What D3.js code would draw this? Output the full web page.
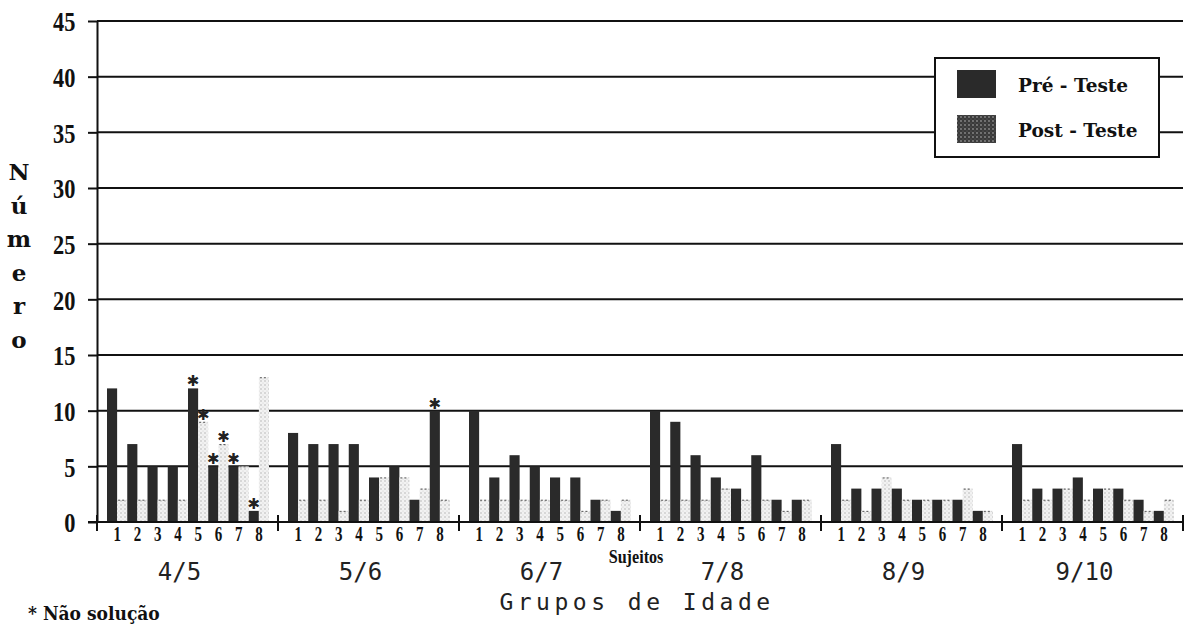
<!DOCTYPE html>
<html>
<head>
<meta charset="utf-8">
<script src="https://cdn.jsdelivr.net/npm/d3@7"></script>
<style>
  body { margin: 0; background: #fff; }
  svg { display: block; }
</style>
</head>
<body>
<script>
// chart data
const groups = ["4/5", "5/6", "6/7", "7/8", "8/9", "9/10"];
const subjects = ["1", "2", "3", "4", "5", "6", "7", "8"];
const preTeste = [
    [12, 7, 5, 5, 12, 5, 5, 1],
    [8, 7, 7, 7, 4, 5, 2, 10],
    [10, 4, 6, 5, 4, 4, 2, 1],
    [10, 9, 6, 4, 3, 6, 2, 2],
    [7, 3, 3, 3, 2, 2, 2, 1],
    [7, 3, 3, 4, 3, 3, 2, 1]
];
const postTeste = [
    [2, 2, 2, 2, 9, 7, 5, 13],
    [2, 2, 1, 2, 4, 4, 3, 2],
    [2, 2, 2, 2, 2, 1, 2, 2],
    [2, 2, 2, 3, 2, 2, 1, 2],
    [2, 1, 4, 2, 2, 2, 3, 1],
    [2, 2, 3, 2, 3, 2, 1, 2]
];
// bars marked "* Não solução": [group, subject, series]
const noSolution = [
    ["4/5", "5", "pre"], ["4/5", "5", "post"], ["4/5", "6", "pre"],
    ["4/5", "6", "post"], ["4/5", "7", "pre"], ["4/5", "8", "pre"],
    ["5/6", "8", "pre"]
];
const yTicks = [0, 5, 10, 15, 20, 25, 30, 35, 40, 45];
const legendLabels = ["Pré - Teste", "Post - Teste"];

const w = 1195
const h = 625
const plotLeft = 97
const plotRight = 1183
const plotTop = 21
const plotBottom = 522
const serif = "'Liberation Serif', 'Times New Roman', serif"
const heavy = "'DejaVu Serif', serif"
const heavyNarrow = "'DejaVu Serif Condensed', 'DejaVu Serif', serif"
const mono = "'DejaVu Sans Mono', monospace"

const yScale = d3.scaleLinear()
    .domain([0, 45])
    .range([plotBottom, plotTop])

const x0 = d3.scaleBand()
    .domain(groups)
    .range([plotLeft, plotRight])

const x1 = d3.scaleBand()
    .domain(subjects)
    .range([10, 172])

const barW = x1.bandwidth() / 2

// flatten to one row per bar
const bars = []
groups.forEach((g, gi) => {
    subjects.forEach((s, si) => {
        bars.push({ g: g, s: s, series: "pre", v: preTeste[gi][si] })
        bars.push({ g: g, s: s, series: "post", v: postTeste[gi][si] })
    })
})
const barX = d => x0(d.g) + x1(d.s) + (d.series == "post" ? barW : 0)

const svg = d3.select("body")
    .append("svg")
    .attr("width", w)
    .attr("height", h)

// stipple patterns for post bars
const defs = svg.append("defs")
const light = defs.append("pattern")
    .attr("id", "stipple")
    .attr("patternUnits", "userSpaceOnUse")
    .attr("width", 4).attr("height", 4)
light.append("rect").attr("width", 4).attr("height", 4).attr("fill", "#f2f2f2")
light.append("circle").attr("cx", 1).attr("cy", 1).attr("r", 0.8).attr("fill", "#b5b5b5")
light.append("circle").attr("cx", 3).attr("cy", 3).attr("r", 0.6).attr("fill", "#cfcfcf")

const dark = defs.append("pattern")
    .attr("id", "stippleDark")
    .attr("patternUnits", "userSpaceOnUse")
    .attr("width", 4).attr("height", 4)
dark.append("rect").attr("width", 4).attr("height", 4).attr("fill", "#3a3a3a")
dark.append("circle").attr("cx", 1).attr("cy", 1).attr("r", 0.9).attr("fill", "#8a8a8a")
dark.append("circle").attr("cx", 3).attr("cy", 3).attr("r", 0.6).attr("fill", "#666")

// horizontal grid lines
svg.append("g")
    .selectAll("line")
    .data(yTicks.filter(t => t > 0))
    .enter()
    .append("line")
    .attr("x1", plotLeft)
    .attr("x2", plotRight)
    .attr("y1", d => yScale(d))
    .attr("y2", d => yScale(d))
    .attr("stroke", "#111")
    .attr("stroke-width", 2)

// bars
svg.append("g")
    .selectAll("rect")
    .data(bars)
    .enter()
    .append("rect")
    .attr("x", d => barX(d))
    .attr("y", d => yScale(d.v))
    .attr("width", barW)
    .attr("height", d => plotBottom - yScale(d.v))
    .attr("fill", d => d.series == "pre" ? "#2a2a2a" : "url(#stipple)")

// dashed tops on the light bars
svg.append("g")
    .selectAll("line")
    .data(bars.filter(d => d.series == "post"))
    .enter()
    .append("line")
    .attr("x1", d => barX(d) + 1)
    .attr("x2", d => barX(d) + barW - 1)
    .attr("y1", d => yScale(d.v) + 0.5)
    .attr("y2", d => yScale(d.v) + 0.5)
    .attr("stroke", "#555")
    .attr("stroke-dasharray", "2,2")

// asterisks
const findBar = d => bars.find(e => e.g == d[0] && e.s == d[1] && e.series == d[2])
svg.append("g")
    .selectAll("text")
    .data(noSolution)
    .enter()
    .append("text")
    .attr("x", d => barX(findBar(d)) + barW / 2)
    .attr("y", d => yScale(findBar(d).v) - 7)
    .attr("text-anchor", "middle")
    .attr("dominant-baseline", "central")
    .attr("font-family", "'DejaVu Sans', sans-serif")
    .attr("font-size", 15)
    .attr("fill", "#222")
    .text("✱")

// y axis
const yAxis = d3.axisLeft(yScale)
    .tickValues(yTicks)
    .tickSize(9)
    .tickSizeOuter(0)
svg.append("g")
    .attr("transform", "translate(" + plotLeft + ",0)")
    .call(yAxis)
    .call(g => g.selectAll("path, line").attr("stroke", "#111").attr("stroke-width", 2))
    .call(g => g.selectAll("text")
        .attr("x", -27)
        .attr("dy", "0.35em")
        .attr("transform", "scale(0.8,1)")
        .attr("font-family", serif)
        .attr("font-weight", "bold")
        .attr("font-size", 28)
        .attr("fill", "#111"))

// x axis line and group ticks
svg.append("line")
    .attr("x1", 88).attr("x2", plotRight)
    .attr("y1", plotBottom).attr("y2", plotBottom)
    .attr("stroke", "#111").attr("stroke-width", 2)

const bounds = groups.map(g => x0(g)).concat([plotRight])
svg.append("g")
    .selectAll("line")
    .data(bounds)
    .enter()
    .append("line")
    .attr("x1", d => d).attr("x2", d => d)
    .attr("y1", plotBottom - 7).attr("y2", plotBottom + 9)
    .attr("stroke", "#111").attr("stroke-width", 2)

// subject numbers
const subjRows = []
groups.forEach(g => subjects.forEach(s => subjRows.push({ g: g, s: s })))
svg.append("g")
    .selectAll("text")
    .data(subjRows)
    .enter()
    .append("text")
    .attr("transform", d => "translate(" + (x0(d.g) + x1(d.s) + x1.bandwidth() / 2) + "," + 541 + ") scale(0.75,1)")
    .attr("text-anchor", "middle")
    .attr("font-family", serif)
    .attr("font-weight", "bold")
    .attr("font-size", 20)
    .attr("fill", "#111")
    .text(d => d.s)

svg.append("text")
    .attr("transform", "translate(636,563) scale(0.85,1)")
    .attr("text-anchor", "middle")
    .attr("font-family", serif)
    .attr("font-weight", "bold")
    .attr("font-size", 19)
    .attr("fill", "#111")
    .text("Sujeitos")

// group labels
svg.append("g")
    .selectAll("text")
    .data(groups)
    .enter()
    .append("text")
    .attr("x", d => x0(d) + x0.bandwidth() / 2 - 8)
    .attr("y", 580)
    .attr("text-anchor", "middle")
    .attr("font-family", mono)
    .attr("font-size", 24)
    .attr("fill", "#222")
    .text(d => d)

svg.append("text")
    .attr("x", 637)
    .attr("y", 610)
    .attr("text-anchor", "middle")
    .attr("font-family", mono)
    .attr("font-size", 23)
    .attr("letter-spacing", 4.5)
    .attr("fill", "#222")
    .text("Grupos de Idade")

// vertical y title, one letter per line
svg.append("g")
    .selectAll("text")
    .data("Número".split(""))
    .enter()
    .append("text")
    .attr("x", 19)
    .attr("y", (d, i) => 172 + i * 33.6)
    .attr("dy", "0.35em")
    .attr("text-anchor", "middle")
    .attr("font-family", heavy)
    .attr("font-weight", "bold")
    .attr("font-size", 23)
    .attr("fill", "#111")
    .text(d => d)

// footnote
svg.append("text")
    .attr("x", 28)
    .attr("y", 620)
    .attr("font-family", heavyNarrow)
    .attr("font-weight", "bold")
    .attr("font-size", 19)
    .attr("fill", "#111")
    .text("* Não solução")

// legend box
const legend = svg.append("g")
legend.append("rect")
    .attr("x", 935).attr("y", 58)
    .attr("width", 224).attr("height", 99)
    .attr("fill", "#fff")
    .attr("stroke", "#111")
    .attr("stroke-width", 2)

legend.selectAll(".swatch")
    .data(legendLabels)
    .enter()
    .append("rect")
    .attr("class", "swatch")
    .attr("x", 957)
    .attr("y", (d, i) => 70 + i * 45)
    .attr("width", 39)
    .attr("height", 28)
    .attr("fill", (d, i) => i == 0 ? "#2a2a2a" : "url(#stippleDark)")

legend.selectAll(".label")
    .data(legendLabels)
    .enter()
    .append("text")
    .attr("class", "label")
    .attr("x", 1018)
    .attr("y", (d, i) => 86 + i * 45)
    .attr("dy", "0.35em")
    .attr("font-family", heavy)
    .attr("font-weight", "bold")
    .attr("font-size", 18.5)
    .attr("fill", "#111")
    .text(d => d)
</script>
</body>
</html>
